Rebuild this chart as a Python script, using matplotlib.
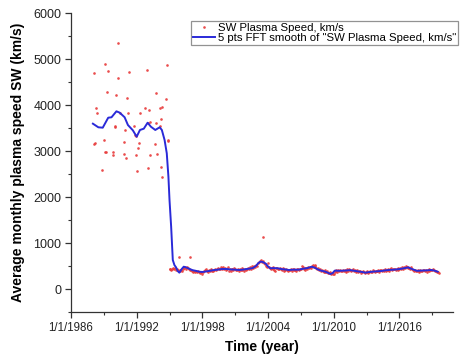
import matplotlib
matplotlib.use("Agg")
import matplotlib.pyplot as plt
from matplotlib.ticker import MultipleLocator, FixedLocator, FixedFormatter

plt.rcParams['font.family'] = ['Liberation Sans', 'DejaVu Sans']

# ---- data (decimal years, km/s) ----
early_years = [1988.1, 1988.1, 1988.15, 1988.3, 1988.4, 1988.8, 1989.0, 1989.1, 1989.1, 1989.2,
               1989.3, 1989.4, 1989.8, 1989.8, 1990.0, 1990.05, 1990.1, 1990.3, 1990.3, 1990.5,
               1990.8, 1990.8, 1990.9, 1991.0, 1991.1, 1991.2, 1991.3, 1991.8, 1991.85, 1991.9,
               1991.9, 1992.0, 1992.1, 1992.2, 1992.3, 1992.8, 1992.9, 1993.0, 1993.05, 1993.1,
               1993.2, 1993.25, 1993.7, 1993.75, 1993.8, 1993.9, 1994.1, 1994.1, 1994.2, 1994.2,
               1994.3, 1994.35, 1994.7, 1994.8, 1994.85, 1994.9]
early_speed = [4703, 3163, 3180, 3928, 3820, 2580, 3233, 4898, 2972, 2985,
               4283, 4739, 2972, 2907, 3522, 3540, 4211, 5355, 4580, 3820,
               3196, 2941, 3463, 2854, 4152, 3820, 4725, 3537, 3355, 3326,
               2907, 2558, 3059, 3180, 3826, 3928, 4768, 2637, 3602, 3891,
               2907, 3630, 3159, 3602, 4268, 2928, 3941, 3543, 3696, 2652,
               2435, 3957, 4137, 4863, 3224, 3233]

# monthly values from Jan 1995 to Aug 2019
monthly_start = 1995.0
monthly_speed = [
    430, 445, 420, 440, 455, 425, 460, 410, 440, 415, 690, 400,   # 1995
    405, 420, 395, 430, 450, 470, 440, 480, 455, 430, 700, 420,   # 1996
    410, 395, 380, 400, 370, 385, 360, 395, 375, 350, 380, 365,   # 1997
    330, 360, 390, 410, 440, 400, 375, 420, 395, 430, 410, 385,   # 1998
    400, 420, 445, 410, 430, 460, 425, 440, 480, 450, 430, 470,   # 1999
    440, 455, 420, 435, 470, 400, 445, 390, 425, 440, 410, 460,   # 2000
    430, 405, 420, 440, 395, 430, 415, 450, 410, 435, 400, 425,   # 2001
    420, 440, 455, 430, 470, 445, 490, 460, 475, 500, 480, 520,   # 2002
    510, 560, 580, 600, 620, 590, 610, 1123, 560, 540, 510, 480,  # 2003
    575, 470, 450, 430, 455, 470, 440, 410, 390, 450, 465, 430,   # 2004
    440, 460, 425, 410, 450, 430, 400, 420, 445, 410, 390, 420,   # 2005
    415, 430, 400, 425, 440, 410, 420, 395, 430, 445, 415, 425,   # 2006
    430, 500, 470, 440, 455, 420, 460, 435, 470, 450, 480, 460,   # 2007
    490, 520, 470, 500, 530, 460, 440, 455, 410, 430, 400, 420,   # 2008
    395, 380, 410, 370, 360, 385, 350, 340, 365, 330, 345, 320,   # 2009
    330, 360, 390, 410, 380, 420, 395, 405, 385, 400, 420, 390,   # 2010
    410, 380, 400, 425, 395, 430, 405, 385, 410, 440, 395, 415,   # 2011
    390, 370, 405, 360, 385, 395, 350, 370, 400, 380, 355, 375,   # 2012
    360, 385, 350, 375, 390, 365, 380, 410, 395, 370, 385, 400,   # 2013
    395, 410, 380, 405, 420, 390, 415, 400, 430, 385, 410, 440,   # 2014
    420, 395, 430, 450, 410, 435, 425, 445, 405, 440, 460, 420,   # 2015
    430, 455, 440, 470, 445, 480, 460, 495, 470, 450, 485, 460,   # 2016
    445, 470, 430, 410, 395, 420, 400, 385, 410, 395, 380, 405,   # 2017
    400, 385, 410, 420, 395, 415, 380, 405, 425, 395, 410, 420,   # 2018
    405, 430, 415, 390, 400, 380, 360, 350,                       # 2019
]

smooth_years = [1988.0, 1988.5, 1988.9, 1989.4, 1989.7, 1990.15, 1990.45, 1990.9, 1991.2, 1991.65,
                1992.0, 1992.3, 1992.65, 1993.0, 1993.3, 1993.7, 1994.1, 1994.3, 1994.55, 1994.75,
                1994.9, 1995.0, 1995.15, 1995.3, 1995.45, 1995.6, 1995.75, 1995.9, 1996.1, 1996.3,
                1996.5, 1996.8, 1997.1, 1997.4, 1997.7, 1998.0, 1998.3, 1998.7, 1999.0, 1999.4,
                1999.8, 2000.2, 2000.6, 2001.0, 2001.4, 2001.8, 2002.2, 2002.6, 2002.9, 2003.1,
                2003.3, 2003.5, 2003.8, 2004.0, 2004.2, 2004.5, 2004.9, 2005.3, 2005.6, 2005.9,
                2006.3, 2006.8, 2007.2, 2007.6, 2008.0, 2008.3, 2008.6, 2008.9, 2009.2, 2009.5,
                2009.7, 2009.9, 2010.1, 2010.5, 2011.0, 2011.5, 2011.9, 2012.3, 2012.6, 2012.9,
                2013.3, 2013.7, 2014.0, 2014.3, 2014.7, 2015.1, 2015.5, 2015.9, 2016.3, 2016.8,
                2017.2, 2017.6, 2018.0, 2018.5, 2018.9, 2019.2, 2019.5]
smooth_speed = [3594, 3515, 3507, 3724, 3733, 3863, 3833, 3733, 3565, 3450,
                3311, 3457, 3485, 3615, 3528, 3457, 3515, 3457, 3239, 2950,
                2441, 1935, 1354, 630, 520, 470, 390, 355, 430, 485,
                470, 440, 410, 395, 376, 370, 380, 395, 410, 420,
                435, 435, 425, 420, 413, 425, 440, 455, 500, 560,
                594, 590, 550, 490, 450, 455, 450, 430, 425, 413,
                420, 420, 440, 455, 485, 460, 420, 395, 380, 350,
                326, 345, 400, 395, 400, 410, 395, 380, 370, 355,
                370, 380, 385, 390, 405, 415, 420, 430, 445, 470,
                430, 395, 400, 405, 413, 400, 376]

xtick_years = [1986, 1992, 1998, 2004, 2010, 2016]
xtick_labels = ["1/1/1986", "1/1/1992", "1/1/1998", "1/1/2004", "1/1/2010", "1/1/2016"]

# ---- figure ----
fig = plt.figure(figsize=(4.62, 3.58), dpi=100)
ax = fig.add_axes([71/462, 1 - 312/358, (453 - 71)/462, (312 - 13)/358])

monthly_years = [monthly_start + i/12 for i in range(len(monthly_speed))]
sc_x = early_years + monthly_years
sc_y = early_speed + monthly_speed

ax.plot(sc_x, sc_y, linestyle='none', marker='o', ms=1.9, mew=0,
        color='#e83a3a', alpha=0.9, label='SW Plasma Speed, km/s', zorder=2)
ax.plot(smooth_years, smooth_speed, color='#2a2ad8', lw=1.4,
        label='5 pts FFT smooth of "SW Plasma Speed, km/s"', zorder=3)

ax.set_xlim(1986, 2020.9)
ax.set_ylim(-500, 6000)

ax.xaxis.set_major_locator(FixedLocator(xtick_years))
ax.xaxis.set_major_formatter(FixedFormatter(xtick_labels))
ax.xaxis.set_minor_locator(MultipleLocator(3))
ax.yaxis.set_major_locator(MultipleLocator(1000))
ax.yaxis.set_minor_locator(MultipleLocator(500))
ax.set_yticks([0, 1000, 2000, 3000, 4000, 5000, 6000])

for s in ['top', 'right']:
    ax.spines[s].set_visible(False)
for s in ['left', 'bottom']:
    ax.spines[s].set_color('#333333')
    ax.spines[s].set_linewidth(0.9)

ax.tick_params(axis='both', which='major', direction='out', length=4.5, width=0.9,
               color='#333333', pad=2.5, labelcolor='#222222')
ax.tick_params(axis='both', which='minor', direction='out', length=2.5, width=0.8,
               color='#333333')
ax.tick_params(axis='y', labelsize=9)
ax.tick_params(axis='x', labelsize=8.3, pad=3)

ax.set_xlabel('Time (year)', fontsize=10, fontweight='bold', labelpad=4)
ax.set_ylabel('Average monthly plasma speed SW (km/s)', fontsize=10, fontweight='bold', labelpad=6)

leg = ax.legend(loc='upper left', bbox_to_anchor=(191/462, 1 - 21/358),
                bbox_transform=fig.transFigure, fontsize=8.2, frameon=True,
                fancybox=False, borderpad=0.15, labelspacing=0.05, handlelength=2.0,
                handletextpad=0.25, borderaxespad=0, markerscale=1.0)
leg.get_frame().set_edgecolor('#777777')
leg.get_frame().set_linewidth(0.9)

fig.savefig('out.png', dpi=100)
